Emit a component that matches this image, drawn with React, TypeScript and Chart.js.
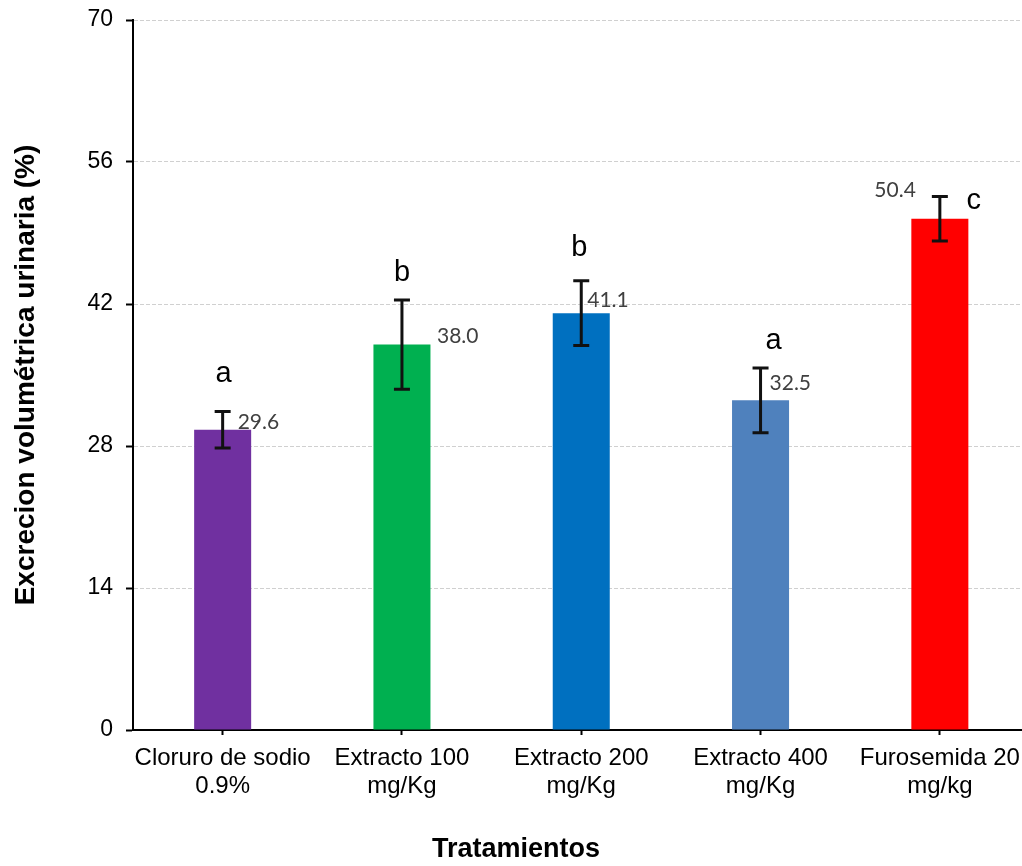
import React, { useEffect, useRef } from "react";
import { Chart, registerables } from "chart.js";

Chart.register(...registerables);

const categories: string[][] = [
  ["Cloruro de sodio", "0.9%"],
  ["Extracto 100", "mg/Kg"],
  ["Extracto 200", "mg/Kg"],
  ["Extracto 400", "mg/Kg"],
  ["Furosemida 20", "mg/kg"],
];
const values: number[] = [29.6, 38.0, 41.1, 32.5, 50.4];
const errors: number[] = [1.8, 4.4, 3.2, 3.2, 2.2];
const letters: string[] = ["a", "b", "b", "a", "c"];
const barColors: string[] = ["#7030A0", "#00B050", "#0070C0", "#4F81BD", "#FF0000"];
const yTicks: number[] = [0, 14, 28, 42, 56, 70];
const yTitle = "Excrecion volumétrica urinaria (%)";
const xTitle = "Tratamientos";

// annotation placement (pixel offsets), kept apart from the data
const letterOffsets: [number, number][] = [
  [1, -38],
  [0, -27],
  [-2, -33],
  [13, -27],
  [34, 5],
];
const valueOffsets: [number, number, CanvasTextAlign][] = [
  [15, -8, "left"],
  [35, -8, "left"],
  [6, -13, "left"],
  [9, -17, "left"],
  [-24, -29, "right"],
];

const FONT = "'Liberation Sans', Arial, sans-serif";
const CANVAS_W = 1045;
const CANVAS_H = 866;

const overlayPlugin = {
  id: "overlay",
  afterDatasetsDraw(chart: any) {
    const ctx = chart.ctx;
    const meta = chart.getDatasetMeta(0);
    const y = chart.scales.y;
    ctx.save();
    // error bars
    ctx.strokeStyle = "#111111";
    ctx.lineWidth = 3;
    meta.data.forEach((bar: any, i: number) => {
      const x = bar.x;
      const top = y.getPixelForValue(values[i] + errors[i]);
      const bot = y.getPixelForValue(values[i] - errors[i]);
      ctx.beginPath();
      ctx.moveTo(x, top);
      ctx.lineTo(x, bot);
      ctx.moveTo(x - 8, top);
      ctx.lineTo(x + 8, top);
      ctx.moveTo(x - 8, bot);
      ctx.lineTo(x + 8, bot);
      ctx.stroke();
    });
    // value labels
    ctx.font = "21px Lato, 'Open Sans', sans-serif";
    ctx.fillStyle = "#404040";
    ctx.textBaseline = "middle";
    meta.data.forEach((bar: any, i: number) => {
      const [dx, dy, align] = valueOffsets[i];
      ctx.textAlign = align;
      ctx.fillText(values[i].toFixed(1), bar.x + dx, bar.y + dy);
    });
    // significance letters
    ctx.font = "29px " + FONT;
    ctx.fillStyle = "#000000";
    ctx.textAlign = "center";
    meta.data.forEach((bar: any, i: number) => {
      const [dx, dy] = letterOffsets[i];
      const top = y.getPixelForValue(values[i] + errors[i]);
      ctx.fillText(letters[i], bar.x + dx, top + dy);
    });
    // axis titles
    ctx.font = "bold 27px " + FONT;
    ctx.fillText(xTitle, 516, 850);
    ctx.font = "bold 28px " + FONT;
    ctx.translate(26, (chart.chartArea.top + chart.chartArea.bottom) / 2);
    ctx.rotate(-Math.PI / 2);
    ctx.fillText(yTitle, 0, 0);
    ctx.restore();
  },
};

export default function App() {
  const ref = useRef<HTMLCanvasElement | null>(null);
  useEffect(() => {
    if (!ref.current) return;
    const chart = new Chart(ref.current, {
      type: "bar",
      data: {
        labels: categories,
        datasets: [
          {
            data: values,
            backgroundColor: barColors,
            borderWidth: 0,
            barPercentage: 0.318,
            categoryPercentage: 1,
          },
        ],
      },
      options: {
        responsive: false,
        animation: false,
        devicePixelRatio: 1,
        layout: { padding: { left: 0, top: 20, right: 15.5, bottom: 0 } },
        plugins: { legend: { display: false }, tooltip: { enabled: false } },
        scales: {
          x: {
            offset: true,
            grid: {
              offset: false,
              drawOnChartArea: false,
              drawTicks: true,
              tickLength: 5,
              tickColor: "#000000",
              tickWidth: 2,
            },
            border: { display: true, color: "#000000", width: 2 },
            ticks: {
              color: "#000000",
              font: { family: FONT, size: 24, lineHeight: 28 / 24 },
              padding: 9,
              maxRotation: 0,
              autoSkip: false,
            },
            afterFit: (scale: any) => {
              scale.height = 136;
              scale.paddingLeft = 0;
              scale.paddingRight = 0;
            },
          },
          y: {
            min: 0,
            max: 70,
            afterBuildTicks: (scale: any) => {
              scale.ticks = yTicks.map((v) => ({ value: v }));
            },
            grid: {
              color: "#d0d0d0",
              lineWidth: 1,
              drawTicks: true,
              tickLength: 7,
              tickColor: "#000000",
              tickWidth: 2,
              tickBorderDash: [],
            },
            border: { display: true, color: "#000000", width: 2, dash: [4, 2] },
            ticks: {
              color: "#000000",
              font: { family: FONT, size: 23 },
              padding: 13,
            },
            afterFit: (scale: any) => {
              scale.width = 133;
              scale.paddingTop = 0;
              scale.paddingBottom = 0;
            },
          },
        },
      },
      plugins: [overlayPlugin],
    });
    return () => chart.destroy();
  }, []);
  return (
    <div
      style={{
        position: "fixed",
        left: 0,
        top: 0,
        width: 1022,
        height: 866,
        overflow: "hidden",
        background: "#ffffff",
      }}
    >
      <canvas
        ref={ref}
        width={CANVAS_W}
        height={CANVAS_H}
        style={{ position: "absolute", left: 0, top: 0, width: CANVAS_W, height: CANVAS_H }}
      />
    </div>
  );
}
